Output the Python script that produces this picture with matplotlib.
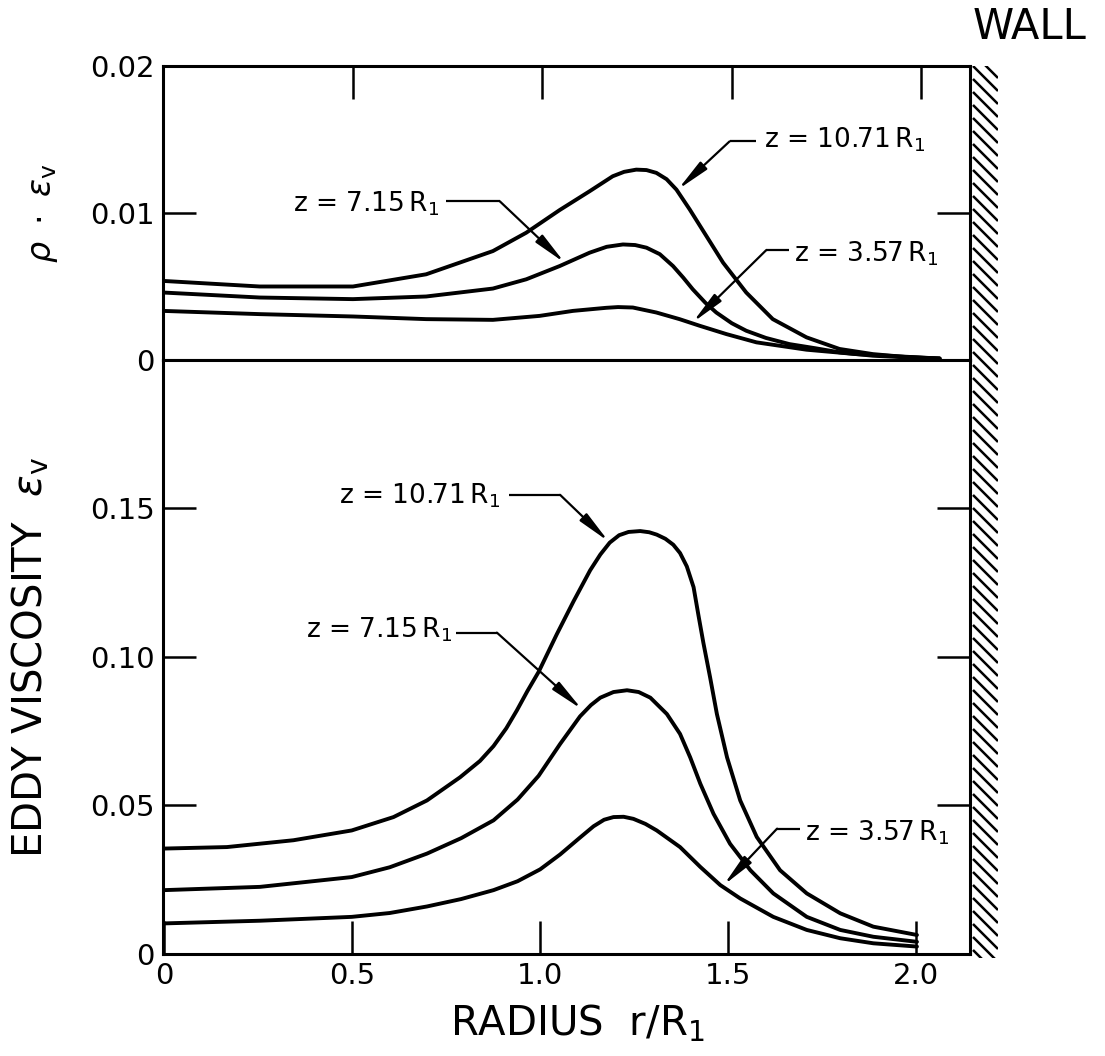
import matplotlib.pyplot as plt
import numpy as np
from matplotlib.collections import LineCollection

plt.rcParams['font.family'] = ['DejaVu Sans']
plt.rcParams['mathtext.fontset'] = 'dejavusans'

# ---- upper panel: rho * eps_v against r/R1 ----
r_top_1071 = [0, 0.255, 0.501, 0.694, 0.870, 0.958, 1.046, 1.125, 1.186, 1.216, 1.248,
              1.275, 1.301, 1.328, 1.354, 1.389, 1.433, 1.477, 1.538, 1.608, 1.697, 1.784,
              1.872, 1.960, 2.048]
rho_ev_1071 = [0.00538, 0.0050, 0.0050, 0.00583, 0.00741, 0.00866, 0.0102, 0.01148, 0.0125,
               0.0128, 0.01295, 0.01292, 0.01273, 0.0123, 0.01159, 0.01024, 0.00843,
               0.00662, 0.00459, 0.00278, 0.00154, 0.00075, 0.0004, 0.0002, 0.0001]

r_top_715 = [0, 0.255, 0.501, 0.694, 0.870, 0.958, 1.046, 1.125, 1.170, 1.213, 1.245,
             1.275, 1.310, 1.345, 1.372, 1.397, 1.430, 1.459, 1.500, 1.538, 1.590, 1.652,
             1.720, 1.784, 1.872, 1.960, 2.048]
rho_ev_715 = [0.00459, 0.00425, 0.00414, 0.00432, 0.00486, 0.00549, 0.00639, 0.0073,
              0.0077, 0.00786, 0.00782, 0.00764, 0.0072, 0.00639, 0.0056, 0.00481, 0.0039,
              0.00323, 0.0025, 0.00199, 0.0015, 0.00108, 0.0008, 0.00052, 0.00029, 0.00018,
              0.0001]

r_top_357 = [0, 0.255, 0.501, 0.694, 0.870, 0.993, 1.081, 1.169, 1.200, 1.239, 1.270,
             1.301, 1.362, 1.415, 1.486, 1.565, 1.697, 1.828, 2.048]
rho_ev_357 = [0.00334, 0.00312, 0.00296, 0.00278, 0.00273, 0.0030, 0.00334, 0.00355,
              0.0036, 0.00357, 0.0034, 0.00323, 0.00278, 0.00233, 0.00176, 0.0012, 0.0007,
              0.0004, 0.0001]

# ---- lower panel: eddy viscosity eps_v against r/R1 ----
r_bot_1071 = [0, 0.167, 0.344, 0.499, 0.610, 0.699, 0.787, 0.840, 0.876, 0.910, 0.938,
              0.966, 0.996, 1.044, 1.089, 1.133, 1.160, 1.185, 1.210, 1.235, 1.266, 1.290,
              1.310, 1.333, 1.354, 1.372, 1.390, 1.408, 1.421, 1.434, 1.452, 1.470, 1.497,
              1.532, 1.576, 1.638, 1.709, 1.798, 1.886, 2.002]
ev_1071 = [0.0355, 0.036, 0.0383, 0.0416, 0.0461, 0.0517, 0.0595, 0.065, 0.070, 0.076,
           0.082, 0.0885, 0.095, 0.1076, 0.1188, 0.1292, 0.1345, 0.1385, 0.141, 0.1421,
           0.1424, 0.142, 0.1412, 0.1398, 0.1378, 0.135, 0.1305, 0.1235, 0.114, 0.1048,
           0.0931, 0.0808, 0.0662, 0.0517, 0.0394, 0.0282, 0.0204, 0.0137, 0.0092, 0.0064]

r_bot_715 = [0, 0.255, 0.499, 0.600, 0.699, 0.790, 0.876, 0.940, 0.996, 1.053, 1.106,
             1.135, 1.160, 1.195, 1.231, 1.262, 1.293, 1.337, 1.372, 1.399, 1.426, 1.461,
             1.505, 1.559, 1.620, 1.709, 1.798, 1.886, 2.002]
ev_715 = [0.0215, 0.0226, 0.0259, 0.0292, 0.0338, 0.039, 0.045, 0.052, 0.060, 0.0707,
          0.080, 0.0838, 0.0863, 0.0882, 0.0888, 0.0882, 0.0863, 0.0808, 0.0741, 0.0662,
          0.0573, 0.0472, 0.0371, 0.0282, 0.0204, 0.0125, 0.0081, 0.0058, 0.0041]

r_bot_357 = [0, 0.255, 0.499, 0.600, 0.699, 0.790, 0.876, 0.940, 1.0, 1.053, 1.106, 1.142,
             1.170, 1.195, 1.222, 1.248, 1.280, 1.310, 1.372, 1.426, 1.479, 1.532, 1.620,
             1.709, 1.798, 1.886, 2.002]
ev_357 = [0.0103, 0.0112, 0.0125, 0.0138, 0.016, 0.0185, 0.0215, 0.0245, 0.0285, 0.0335,
          0.0392, 0.0430, 0.0452, 0.0461, 0.0462, 0.0455, 0.0438, 0.0416, 0.036, 0.0293,
          0.0232, 0.0187, 0.0125, 0.0081, 0.0053, 0.0036, 0.0025]

station_labels = [r'z = 10.71$\,\mathrm{R}_1$', r'z = 7.15$\,\mathrm{R}_1$',
                  r'z = 3.57$\,\mathrm{R}_1$']
x_ticks = [0, 0.5, 1.0, 1.5, 2.0]
x_ticklabels = ['0', '0.5', '1.0', '1.5', '2.0']
top_yticks = [0, 0.01, 0.02]
top_yticklabels = ['0', '0.01', '0.02']
bot_yticks = [0, 0.05, 0.10, 0.15]
bot_yticklabels = ['0', '0.05', '0.10', '0.15']

LW = 2.8

fig = plt.figure(figsize=(11.05, 10.56), dpi=100)
ax1 = fig.add_axes([0.1475, 0.6591, 0.7303, 0.2784])
ax2 = fig.add_axes([0.1475, 0.0966, 0.7303, 0.5625])

for ax in (ax1, ax2):
    for s in ax.spines.values():
        s.set_linewidth(2.2)
    ax.tick_params(which='major', direction='in', length=24, width=1.8,
                   labelsize=21, pad=6)

# upper panel
for r, v in [(r_top_1071, rho_ev_1071), (r_top_715, rho_ev_715), (r_top_357, rho_ev_357)]:
    ax1.plot(r, v, color='black', lw=LW, solid_joinstyle='round', solid_capstyle='round')
ax1.set_xlim(0, 2.128)
ax1.set_ylim(0, 0.02)
ax1.set_xticks(x_ticks)
ax1.set_yticks(top_yticks)
ax1.set_yticklabels(top_yticklabels)
ax1.tick_params(axis='x', top=True, bottom=False, labeltop=False, labelbottom=False)
ax1.tick_params(axis='y', left=True, right=True)
ax1.set_ylabel(r'$\rho\ \cdot\ \epsilon_\mathrm{v}$', fontsize=24)
ax1.yaxis.set_label_coords(-0.128, 0.5)

# lower panel
for r, v in [(r_bot_1071, ev_1071), (r_bot_715, ev_715), (r_bot_357, ev_357)]:
    ax2.plot(r, v, color='black', lw=LW, solid_joinstyle='round', solid_capstyle='round')
ax2.set_xlim(-0.003, 2.143)
ax2.set_ylim(0, 0.2)
ax2.set_xticks(x_ticks)
ax2.set_xticklabels(x_ticklabels)
ax2.set_yticks(bot_yticks)
ax2.set_yticklabels(bot_yticklabels)
ax2.tick_params(axis='x', top=False, bottom=True)
ax2.tick_params(axis='y', left=True, right=True)
ax2.set_xlabel(r'RADIUS  r/$\mathrm{R}_1$', fontsize=29)
ax2.xaxis.set_label_coords(0.513, -0.082)
ax2.set_ylabel(r'EDDY VISCOSITY  $\epsilon_\mathrm{v}$', fontsize=29)
ax2.yaxis.set_label_coords(-0.138, 0.5)


def draw_leader(ax, text, text_xy, ha, x0, x1, y, tip):
    # station label, a short horizontal rule, then an arrow onto the curve
    ax.text(text_xy[0], text_xy[1], text, ha=ha, va='baseline', fontsize=19)
    ax.plot([x0, x1], [y, y], color='black', lw=1.6, solid_capstyle='butt')
    ax.annotate('', xy=tip, xytext=(x1, y),
                arrowprops=dict(arrowstyle='-|>,head_length=1.1,head_width=0.17',
                                color='black', lw=1.6, mutation_scale=18,
                                shrinkA=0, shrinkB=0))


draw_leader(ax1, station_labels[0], (1.585, 0.01444), 'left', 1.565, 1.494, 0.01487, (1.358, 0.0116))
draw_leader(ax1, station_labels[1], (0.729, 0.01012), 'right', 0.745, 0.888, 0.0108, (1.059, 0.00662))
draw_leader(ax1, station_labels[2], (1.665, 0.00671), 'left', 1.650, 1.591, 0.00748, (1.397, 0.00256))

draw_leader(ax2, station_labels[0], (0.894, 0.1517), 'right', 0.918, 1.053, 0.1546, (1.182, 0.1389))
draw_leader(ax2, station_labels[1], (0.766, 0.1064), 'right', 0.775, 0.885, 0.1082, (1.111, 0.0824))
draw_leader(ax2, station_labels[2], (1.705, 0.0383), 'left', 1.690, 1.630, 0.0422, (1.488, 0.0232))

# hatched wall on the right-hand side
wall = fig.add_axes([970 / 1105, 1 - 958 / 1056, 28 / 1105, 892 / 1056])
wall.set_xlim(0, 28)
wall.set_ylim(0, 892)
wall.axis('off')
segs = [[(3, y + 25), (28, y)] for y in np.arange(-30, 920, 13)]
wall.add_collection(LineCollection(segs, colors='black', linewidths=1.8))

fig.text(1030 / 1105, 1 - 27 / 1056, 'WALL', ha='center', va='center', fontsize=30)

fig.savefig('out.png', dpi=100)
